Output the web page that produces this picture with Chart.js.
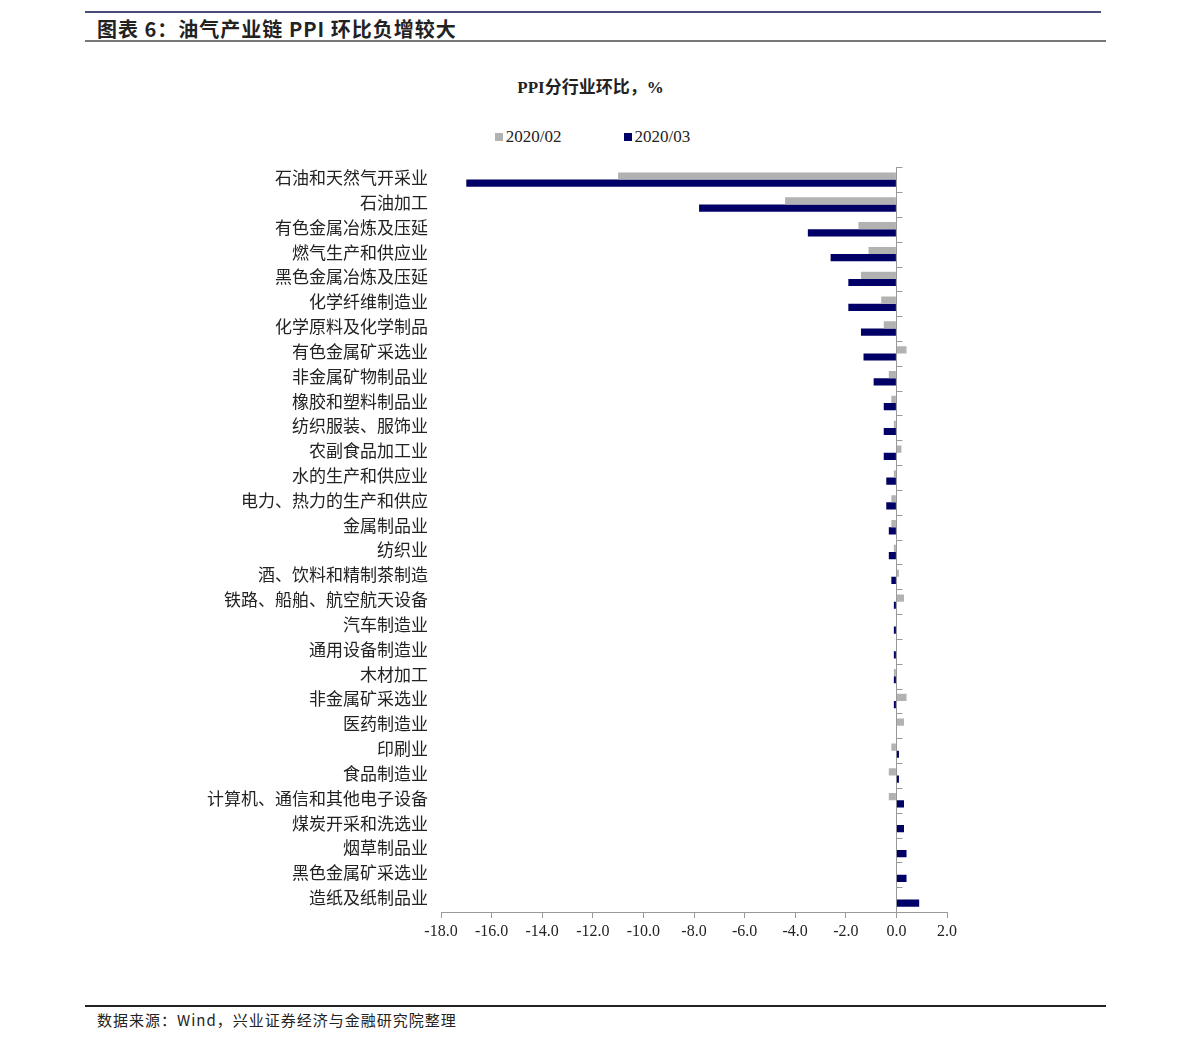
<!DOCTYPE html>
<html lang="zh">
<head>
<meta charset="UTF-8">
<title>图表 6：油气产业链 PPI 环比负增较大</title>
<script src="https://cdn.jsdelivr.net/npm/chart.js"></script>
<style>
    body { margin: 0; background: #fff; font-family: 'Liberation Serif', 'Noto Sans CJK SC', serif; color: #222; }
    .page { position: relative; width: 1191px; height: 1047px; overflow: hidden; }
    .rule { position: absolute; left: 85px; }
    #fig-title { position: absolute; left: 97px; top: 14px; font-size: 20px; font-weight: bold; letter-spacing: 1px; font-family: 'Noto Sans CJK SC', sans-serif; }
    #chart-title { position: absolute; left: 0; width: 1181px; top: 73px; text-align: center; font-size: 17px; font-weight: bold; }
    #legend { position: absolute; left: 0; width: 1185px; top: 127px; text-align: center; font-size: 17px; }
    #legend span.item { display: inline-block; margin: 0 31px; }
    #legend span.box { display: inline-block; width: 8px; height: 8px; margin-right: 3px; vertical-align: 1px; }
    #source { position: absolute; left: 97px; top: 1009px; font-size: 15px; letter-spacing: 1px; font-family: 'Noto Sans CJK SC', sans-serif; }
    .chart-box { position: absolute; left: 0; top: 144px; width: 1191px; height: 826px; }
</style>
</head>
<body>
<div class="page">
    <div class="rule" style="top:11px;width:1016px;height:2px;background:#4a4a7c;"></div>
    <div id="fig-title">图表 6：油气产业链 PPI 环比负增较大</div>
    <div class="rule" style="top:40px;width:1021px;height:2px;background:#777;"></div>

    <div id="chart-title">PPI分行业环比，%</div>
    <div id="legend"></div>

    <div class="chart-box"><canvas id="ppi"></canvas></div>

    <div class="rule" style="top:1005px;width:1021px;height:2px;background:#222;"></div>
    <div id="source">数据来源：Wind，兴业证券经济与金融研究院整理</div>
</div>

<script>
// 行业（自上而下）
const categories = [
    '石油和天然气开采业', '石油加工', '有色金属冶炼及压延', '燃气生产和供应业', '黑色金属冶炼及压延',
    '化学纤维制造业', '化学原料及化学制品', '有色金属矿采选业', '非金属矿物制品业', '橡胶和塑料制品业',
    '纺织服装、服饰业', '农副食品加工业', '水的生产和供应业', '电力、热力的生产和供应', '金属制品业',
    '纺织业', '酒、饮料和精制茶制造', '铁路、船舶、航空航天设备', '汽车制造业', '通用设备制造业',
    '木材加工', '非金属矿采选业', '医药制造业', '印刷业', '食品制造业',
    '计算机、通信和其他电子设备', '煤炭开采和洗选业', '烟草制品业', '黑色金属矿采选业', '造纸及纸制品业'
];

// 环比，%
const feb2020 = [-11.0, -4.4, -1.5, -1.1, -1.4, -0.6, -0.5, 0.4, -0.3, -0.2,
                 -0.1, 0.2, -0.1, -0.2, -0.2, -0.1, 0.1, 0.3, 0, 0,
                 -0.1, 0.4, 0.3, -0.2, -0.3, -0.3, 0, 0, 0, 0];
const mar2020 = [-17.0, -7.8, -3.5, -2.6, -1.9, -1.9, -1.4, -1.3, -0.9, -0.5,
                 -0.5, -0.5, -0.4, -0.4, -0.3, -0.3, -0.2, -0.1, -0.1, -0.1,
                 -0.1, -0.1, 0, 0.1, 0.1, 0.3, 0.3, 0.4, 0.4, 0.9];

const seriesNames = ['2020/02', '2020/03'];
const seriesColors = ['#b2b2b2', '#000066'];

// x 轴刻度
const xMin = -18;
const xMax = 2;
const xStep = 2;

// 图例（HTML）
const legendEl = document.getElementById('legend');
seriesNames.forEach(function (name, i) {
    legendEl.innerHTML += '<span class="item"><span class="box" style="background:' + seriesColors[i] + '"></span>' + name + '</span>';
});

// 类目轴上的小刻度（画在零线右侧）
const categoryTicks = {
    id: 'categoryTicks',
    afterDraw(chart) {
        const xs = chart.scales.x;
        const ys = chart.scales.y;
        const x0 = xs.getPixelForValue(0);
        const step = (ys.bottom - ys.top) / categories.length;
        const ctx = chart.ctx;
        ctx.save();
        ctx.strokeStyle = '#999';
        ctx.lineWidth = 1;
        ctx.beginPath();
        for (let i = 0; i < categories.length; i++) {
            const y = Math.round(ys.top + i * step) + 0.5;
            ctx.moveTo(x0, y);
            ctx.lineTo(x0 + 6, y);
        }
        ctx.stroke();
        ctx.restore();
    }
};

const fontFamily = "'Liberation Serif', 'Noto Sans CJK SC', serif";

new Chart(document.getElementById('ppi'), {
    type: 'bar',
    data: {
        labels: categories,
        datasets: [
            { label: seriesNames[0], data: feb2020, backgroundColor: seriesColors[0], borderWidth: 0 },
            { label: seriesNames[1], data: mar2020, backgroundColor: seriesColors[1], borderWidth: 0 }
        ]
    },
    options: {
        indexAxis: 'y',
        responsive: true,
        maintainAspectRatio: false,
        animation: false,
        datasets: { bar: { barPercentage: 1, categoryPercentage: 0.58 } },
        layout: { padding: { top: 18, right: 244, bottom: 18, left: 0 } },
        plugins: {
            legend: { display: false },
            title: { display: false },
            tooltip: { enabled: false }
        },
        scales: {
            x: {
                min: xMin,
                max: xMax,
                ticks: {
                    stepSize: xStep,
                    color: '#222',
                    padding: 4,
                    font: { family: fontFamily, size: 16 },
                    callback: function (v) { return Number(v).toFixed(1); }
                },
                grid: {
                    drawOnChartArea: true,
                    color: function (c) { return c.tick && c.tick.value === 0 ? '#999' : 'rgba(0,0,0,0)'; },
                    tickColor: '#999',
                    tickLength: 6
                },
                border: { display: true, color: '#999' },
                afterFit: function (scale) { scale.height = 40; }
            },
            y: {
                ticks: {
                    color: '#222',
                    padding: 13,
                    autoSkip: false,
                    font: { family: fontFamily, size: 17 }
                },
                grid: { display: false, drawTicks: false },
                border: { display: false },
                afterFit: function (scale) { scale.width = 441; }
            }
        }
    },
    plugins: [categoryTicks]
});
</script>
</body>
</html>
